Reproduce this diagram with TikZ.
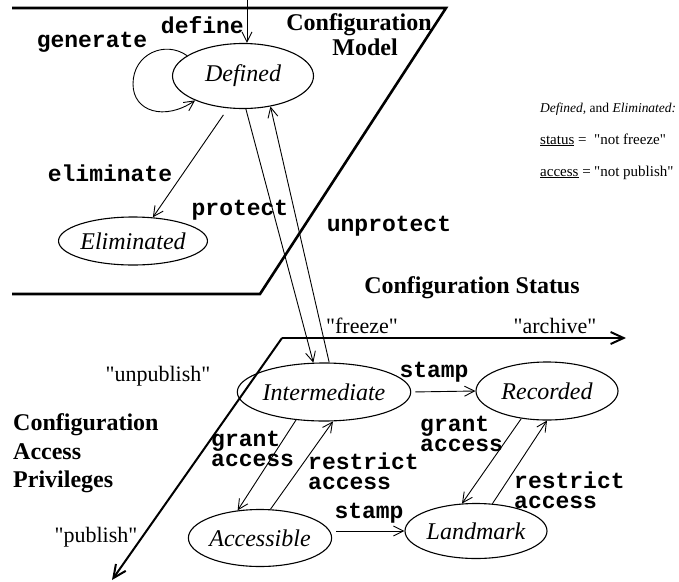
\documentclass[tikz,border=0pt]{standalone}
\usepackage{fontspec}
\usepackage{graphicx}
\setmainfont{Liberation Serif}[Ligatures=TeXOff]
\newfontfamily\codefont{Liberation Mono}[Ligatures=TeXOff]
\usetikzlibrary{arrows.meta,shapes.geometric}

\begin{document}
\begin{tikzpicture}[x=1pt,y=-1pt,
  state/.style={ellipse, draw, line width=1.1pt, inner sep=0pt,
    font=\fontsize{24}{26}\selectfont\itshape},
  op/.style={inner sep=0pt, align=left,
    font=\fontsize{23}{20}\selectfont\codefont\bfseries},
  heading/.style={inner sep=0pt, font=\fontsize{24}{26}\selectfont\bfseries},
  quoted/.style={inner sep=0pt, font=\fontsize{22}{24}\selectfont},
  note/.style={inner sep=0pt, font=\fontsize{15}{17}\selectfont},
  trans/.style={line width=0.9pt,
    -{Straight Barb[length=10pt,width=10pt,line width=0.9pt]}},
  frame/.style={line width=2.6pt, line join=miter},
  axis/.style={line width=2pt,
    -{Straight Barb[length=13pt,width=12pt,line width=2pt]}},
]
\useasboundingbox (0,0) rectangle (679,581);

% model plane: open on the left side
\draw[frame] (12,8) -- (446,8) -- (260,294) -- (12,294);

% status / access axes
\coordinate (orig) at (282,338);
\coordinate (statusEnd) at (626,338);
\coordinate (accessEnd) at (112,580);
\draw[axis] (orig) -- (statusEnd);
\draw[axis] (orig) -- (accessEnd);

% states
\node[state, minimum width=141pt, minimum height=65pt] (def) at (243,76) {Defined};
\node[state, minimum width=140pt, minimum height=48pt] (elim) at (133,241) {Eliminated};
\node[state, minimum width=142pt, minimum height=58pt] (inter) at (324,392) {Intermediate};
\node[state, minimum width=142pt, minimum height=58pt] (rec) at (547,391) {Recorded};
\node[state, minimum width=140pt, minimum height=57pt] (acc) at (260,538) {Accessible};
\node[state, minimum width=142pt, minimum height=55pt] (land) at (476,531) {Landmark};

% transitions
\coordinate (defSrc) at (247,0);
\draw[trans] (defSrc) -- (defSrc |- def.north);
\draw[trans] (def.160) .. controls (165,40) and (133,54) .. (133,84)
  .. controls (133,112) and (165,121) .. (def.207);
\draw[trans, shorten <=8pt] (def.245) -- (elim.50);
\draw[trans] (def.275) -- (inter.110);
\draw[trans] (inter.80) -- (def.312);
\draw[trans, shorten <=4pt] (inter.east) -- (rec.west);
\draw[trans, shorten <=4pt] (acc.east |- land.west) -- (land.west);
\draw[trans] (inter.225) -- (acc.129);
\draw[trans] (acc.70) -- (inter.287);
\draw[trans] (rec.227) -- (land.117);
\draw[trans] (land.59) -- (rec.270);

% operation labels
\node[op, anchor=east] (lDefine) at (244,25) {define};
\node[op] (lGenerate) at (92,42) {generate};
\node[op] (lEliminate) at (110,173) {eliminate};
\node[op] (lProtect) at (240,210) {protect};
\node[op] (lUnprotect) at (389,226) {unprotect};
\node[op] (lStampTop) at (434,372) {stamp};
\node[op] (lStampBot) at (369,513) {stamp};
\node[op, anchor=west] (lGrantL) at (211,449) {grant\\access};
\node[op, anchor=west] (lRestrictL) at (308,471) {restrict\\access};
\node[op, anchor=west] (lGrantR) at (420,434) {grant\\access};
\node[op, anchor=west] (lRestrictR) at (514,490) {restrict\\access};

% headings
\node[heading] (hModelA) at (359,25) {Configuration};
\node[heading] (hModelB) at (365,47) {Model};
\node[heading] (hStatus) at (472,288) {Configuration Status};
\node[heading, anchor=base west] (hAccA) at (13,430) {Configuration};
\node[heading, anchor=base west] (hAccB) at (13,459) {Access};
\node[heading, anchor=base west] (hAccC) at (13,487) {Privileges};

% axis values
\node[quoted] (vFreeze) at (362,326) {"freeze"};
\node[quoted] (vArchive) at (555,326) {"archive"};
\node[quoted] (vUnpublish) at (158,376) {"unpublish"};
\node[quoted] (vPublish) at (96,537) {"publish"};

% note on the model states
\node[note, anchor=base west] (noteA) at (540,112)
  {\resizebox{136pt}{!}{\textit{Defined,} and \textit{Eliminated:}}};
\node[note, anchor=base west] (noteB) at (540,144)
  {\makebox[54pt][l]{\underline{status} =}"not freeze"};
\node[note, anchor=base west] (noteC) at (540,176)
  {\makebox[54pt][l]{\underline{access} =}"not publish"};
\end{tikzpicture}
\end{document}
